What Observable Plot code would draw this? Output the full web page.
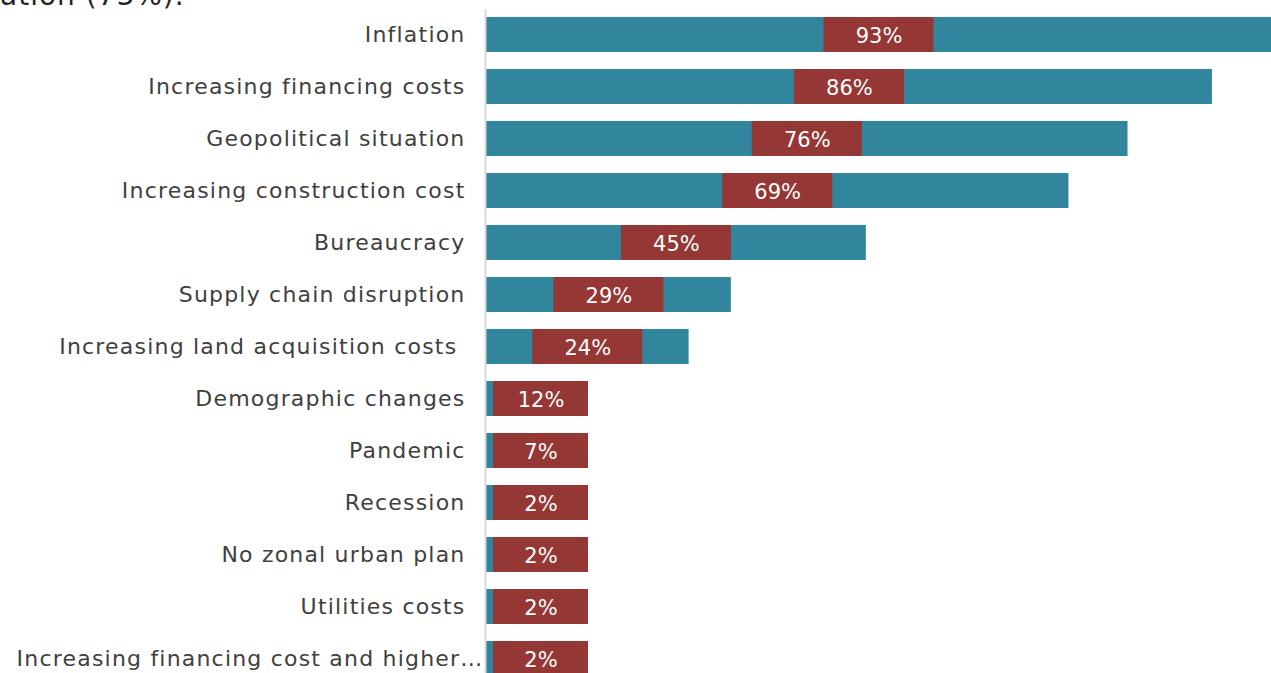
<!DOCTYPE html>
<html>
<head>
<meta charset="utf-8">
<script src="https://cdn.jsdelivr.net/npm/d3@7"></script>
<script src="https://cdn.jsdelivr.net/npm/@observablehq/plot@0.6"></script>
<style>
  html, body { margin: 0; padding: 0; background: #fff; overflow: hidden; }
  #wrap { position: relative; width: 1271px; height: 673px; overflow: hidden; background: #fff; }
  #note { position: absolute; left: 0; top: -18px; z-index: 2; font-family: "DejaVu Sans", sans-serif; font-size: 28px; line-height: 28px; letter-spacing: 1px; color: #262626; white-space: nowrap; }
  #chart { position: absolute; left: 0; top: 0; z-index: 1; }
</style>
</head>
<body>
<div id="wrap">
  <div id="note">ation (73%).</div>
  <div id="chart"></div>
</div>
<script>
const categories = [
  "Inflation",
  "Increasing financing costs",
  "Geopolitical situation",
  "Increasing construction cost",
  "Bureaucracy",
  "Supply chain disruption",
  "Increasing land acquisition costs ",
  "Demographic changes",
  "Pandemic",
  "Recession",
  "No zonal urban plan",
  "Utilities costs",
  "Increasing financing cost and higher…"
];
const values = [93, 86, 76, 69, 45, 29, 24, 12, 7, 2, 2, 2, 2];
const valueLabels = ["93%", "86%", "76%", "69%", "45%", "29%", "24%", "12%", "7%", "2%", "2%", "2%", "2%"];

const data = categories.map((c, i) => ({cat: c, value: values[i], label: valueLabels[i]}));

const width = 1271, height = 685, marginLeft = 486, marginRight = 0, marginTop = 9, marginBottom = 0;
const xMax = 93;
const pxPerUnit = (width - marginLeft - marginRight) / xMax;
const boxHalf = 55 / pxPerUnit;        // label box half width (110px)
const smallStart = 7 / pxPerUnit;      // minimum box start (7px right of axis)
const smallW = 95 / pxPerUnit;

const boxes = data.map(d => {
  let x1 = d.value / 2 - boxHalf, x2 = d.value / 2 + boxHalf;
  if (x1 < smallStart) { x1 = smallStart; x2 = smallStart + smallW; }
  return {...d, x1, x2, xc: (x1 + x2) / 2};
});

const font = "'DejaVu Sans', sans-serif";
const chart = Plot.plot({
  width, height, marginLeft, marginRight, marginTop, marginBottom,
  x: {domain: [0, xMax], axis: null},
  y: {domain: categories, paddingInner: 0.32, paddingOuter: 0.16, label: null},
  style: {fontFamily: font, background: "#fff"},
  marks: [
    Plot.barX(data, {y: "cat", x: "value", fill: "#31859c"}),
    Plot.barX(boxes, {y: "cat", x1: "x1", x2: "x2", fill: "#953735"}),
    Plot.text(boxes, {y: "cat", x: "xc", text: "label", fill: "#ffffff", fontSize: 21, dy: 1, style: "letter-spacing:0.5px"}),
    Plot.ruleX([0], {stroke: "#d9d9d9", strokeWidth: 2, dx: -1}),
    Plot.axisY({tickSize: 0, tickPadding: 21, fontSize: 22, label: null, textOverflow: null})
  ]
});
const ticks = chart.querySelectorAll('[aria-label="y-axis tick label"] text');
ticks.forEach(t => { t.setAttribute("fill", "#404040"); t.style.letterSpacing = "1.2px"; });
// the truncated last label sits closer to the axis in the original
const last = ticks[ticks.length - 1];
if (last) last.setAttribute("dx", "18");
document.getElementById("chart").appendChild(chart);
</script>
</body>
</html>
